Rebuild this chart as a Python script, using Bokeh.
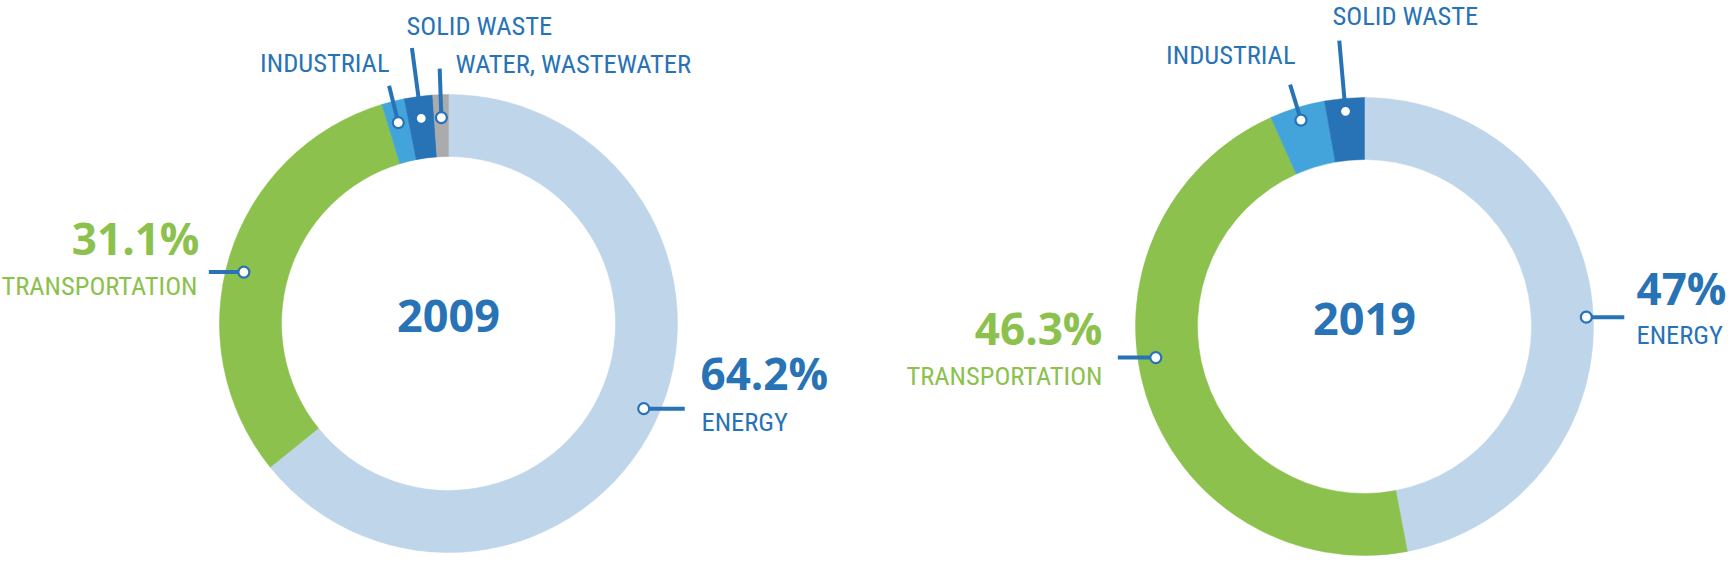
import math
from bokeh.plotting import figure
from bokeh.models import ColumnDataSource, Range1d
from bokeh.embed import file_html
from bokeh.resources import INLINE

W, H = 1733, 576

# ---------------- data ----------------
categories = ["ENERGY", "TRANSPORTATION", "INDUSTRIAL", "SOLID WASTE", "WATER, WASTEWATER"]
years = ["2009", "2019"]
shares_2009 = [64.2, 31.1, 1.6, 2.0, 1.1]
shares_2019 = [47.0, 46.3, 3.9, 2.8]
shares = {"2009": shares_2009, "2019": shares_2019}

# ---------------- style / layout ----------------
colors = ["#BFD5EA", "#8BC14C", "#43A3DB", "#2873B6", "#ABABAD"]
BLUE = "#2873B6"
GREEN = "#8BC14C"
centers = {"2009": (448, 323), "2019": (1364, 326)}   # pixel coords (y from top)
R_OUT, R_IN = 229, 167

# leader layout per year per category index: (angle offset deg, marker radius, kind, extent)
leaders = {
    "2009": {0: (-2, 213, "h", 41), 1: (-3, 211, "h", -35), 2: (0, 207, "r", 245),
             3: (0, 207, "r", 278), 4: (0, 206, "r", 255)},
    "2019": {0: (3, 222, "h", 38), 1: (9, 211, "h", -38), 2: (0, 216, "r", 253),
             3: (0, 216, "r", 287)},
}

# label layout: (year, cat index, kind, x, baseline y (from top), align)
labels = [
    ("2009", 2, "name", 389, 73, "right"),
    ("2009", 3, "name", 406, 36, "left"),
    ("2009", 4, "name", 455, 74, "left"),
    ("2009", 1, "pct", 199, 255, "right"),
    ("2009", 1, "name", 197, 296, "right"),
    ("2009", 0, "pct", 700, 390, "left"),
    ("2009", 0, "name", 701, 432, "left"),
    ("2019", 2, "name", 1295, 65, "right"),
    ("2019", 3, "name", 1332, 26, "left"),
    ("2019", 1, "pct", 1102, 345, "right"),
    ("2019", 1, "name", 1102, 386, "right"),
    ("2019", 0, "pct", 1636, 305, "left"),
    ("2019", 0, "name", 1636, 345, "left"),
]

NAME_FONT = "Roboto Condensed, DejaVu Sans Condensed, Roboto, sans-serif"
NUM_FONT = "Open Sans"
NAME_SIZE, PCT_SIZE, YEAR_SIZE = 26.5, 44, 45
BASE_SHIFT = 0.4   # em, compensates the renderer's baseline placement

p = figure(width=W, height=H, x_range=Range1d(0, W), y_range=Range1d(0, H),
           output_backend="svg", toolbar_location=None, min_border=0,
           x_axis_location=None, y_axis_location=None, outline_line_color=None)
p.grid.visible = False
p.background_fill_color = "white"
p.border_fill_color = "white"


def pt(cx, cy, ang_deg, r):
    a = math.radians(ang_deg)
    return cx + r * math.sin(a), (H - cy) + r * math.cos(a)


# ---------------- wedges ----------------
wx, wy, ws, we, wc = [], [], [], [], []
mid_angles = {}
for yr in years:
    cx, cy = centers[yr]
    vals = shares[yr]
    total = sum(vals)
    c = 0.0
    mids = []
    for i, v in enumerate(vals):
        c0, c1 = c / total, (c + v) / total
        wx.append(cx)
        wy.append(H - cy)
        ws.append(math.pi / 2 - 2 * math.pi * c0)
        we.append(math.pi / 2 - 2 * math.pi * c1)
        wc.append(colors[i])
        mids.append(360 * (c0 + c1) / 2)
        c += v
    mid_angles[yr] = mids

p.annular_wedge(x="x", y="y", inner_radius=R_IN, outer_radius=R_OUT,
                start_angle="s", end_angle="e", direction="clock",
                fill_color="c", line_color="c", line_width=0.5,
                source=ColumnDataSource(dict(x=wx, y=wy, s=ws, e=we, c=wc)))

# ---------------- leaders ----------------
lx0, ly0, lx1, ly1, mx, my = [], [], [], [], [], []
for yr in years:
    cx, cy = centers[yr]
    for i, (off, rm, kind, ext) in leaders[yr].items():
        ang = mid_angles[yr][i] + off
        x0, y0 = pt(cx, cy, ang, rm)
        if kind == "h":
            x1, y1 = x0 + ext, y0
        else:
            x1, y1 = pt(cx, cy, ang, ext)
        lx0.append(x0); ly0.append(y0); lx1.append(x1); ly1.append(y1)
        mx.append(x0); my.append(y0)

p.segment(x0=lx0, y0=ly0, x1=lx1, y1=ly1, line_color=BLUE, line_width=4)
p.scatter(x=mx, y=my, marker="circle", size=11, fill_color="white",
          line_color=BLUE, line_width=2.2)

# ---------------- texts ----------------
tx, ty, tt, ta, tcol, tsize, tfont, tstyle = [], [], [], [], [], [], [], []
for yr, i, kind, x, yb, al in labels:
    tx.append(x)
    ta.append(al)
    tcol.append(GREEN if i == 1 else BLUE)
    if kind == "pct":
        tt.append(f"{shares[yr][i]:g}%")
        sz = PCT_SIZE
        tfont.append(NUM_FONT)
        tstyle.append("bold")
    else:
        tt.append(categories[i])
        sz = NAME_SIZE
        tfont.append(NAME_FONT)
        tstyle.append("normal")
    tsize.append(f"{sz}px")
    ty.append(H - yb + BASE_SHIFT * sz)

for yr in years:
    cx, cy = centers[yr]
    tx.append(cx)
    ty.append(H - cy - 10 + BASE_SHIFT * YEAR_SIZE)
    tt.append(yr)
    ta.append("center")
    tcol.append(BLUE)
    tsize.append(f"{YEAR_SIZE}px")
    tfont.append(NUM_FONT)
    tstyle.append("bold")

p.text(x="x", y="y", text="t", text_align="a", text_color="c",
       text_font_size="s", text_font="f", text_font_style="st",
       text_baseline="alphabetic",
       source=ColumnDataSource(dict(x=tx, y=ty, t=tt, a=ta, c=tcol, s=tsize,
                                    f=tfont, st=tstyle)))

open("out.html", "w").write(file_html(p, INLINE))
